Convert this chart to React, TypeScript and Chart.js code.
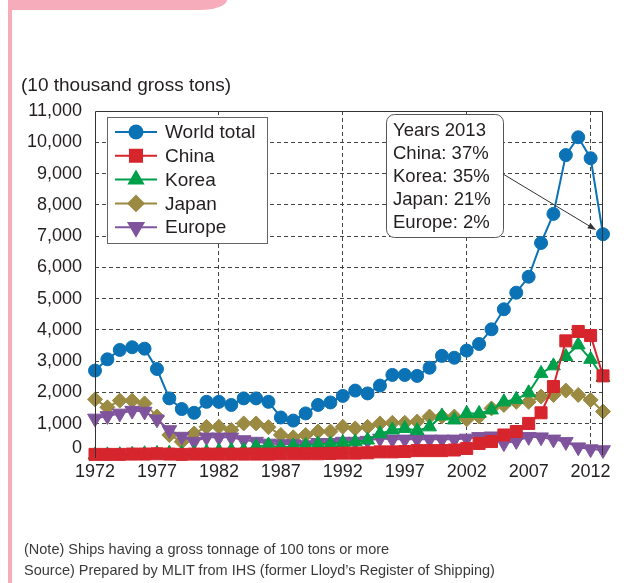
import React, { useEffect, useRef } from "react";
import { Chart, registerables } from "chart.js";
import { drawPoint } from "chart.js/helpers";
Chart.register(...registerables);

const years = [
  1972, 1973, 1974, 1975, 1976, 1977, 1978, 1979, 1980, 1981,
  1982, 1983, 1984, 1985, 1986, 1987, 1988, 1989, 1990, 1991,
  1992, 1993, 1994, 1995, 1996, 1997, 1998, 1999, 2000, 2001,
  2002, 2003, 2004, 2005, 2006, 2007, 2008, 2009, 2010, 2011,
  2012, 2013,
];
const worldTotal = [
  2700, 3060, 3360, 3445, 3400, 2750, 1810, 1470, 1350, 1700,
  1700, 1600, 1810, 1810, 1700, 1200, 1100, 1330, 1600, 1680,
  1890, 2060, 1970, 2220, 2560, 2560, 2530, 2790, 3170, 3110,
  3340, 3550, 4020, 4660, 5190, 5700, 6780, 7710, 9590, 10160,
  9490, 7060,
];
const china = [
  20, 20, 20, 30, 30, 40, 30, 20, 30, 30,
  30, 30, 30, 30, 30, 40, 40, 40, 40, 50,
  60, 60, 70, 100, 100, 110, 140, 140, 140, 160,
  210, 370, 430, 640, 750, 1010, 1350, 2190, 3650, 3950,
  3820, 2530,
];
const korea = [
  2, 5, 10, 20, 40, 50, 60, 50, 60, 90,
  130, 150, 150, 270, 320, 240, 290, 300, 350, 350,
  400, 420, 480, 680, 800, 850, 780, 900, 1250, 1120,
  1330, 1330, 1440, 1700, 1780, 1990, 2610, 2850, 3150, 3520,
  3060, 2480,
];
const japan = [
  1780, 1525, 1740, 1740, 1650, 1230, 640, 425, 690, 900,
  900, 800, 1010, 1010, 890, 640, 565, 640, 750, 750,
  900, 850, 900, 1010, 1030, 1030, 1070, 1230, 1230, 1230,
  1140, 1230, 1490, 1600, 1700, 1700, 1870, 1920, 2060, 1920,
  1760, 1390,
];
const europe = [
  1170, 1250, 1330, 1420, 1390, 1140, 800, 590, 430, 565,
  565, 565, 480, 430, 370, 350, 350, 320, 390, 390,
  430, 430, 460, 530, 500, 500, 500, 500, 500, 500,
  530, 580, 600, 380, 450, 580, 570, 500, 420, 250,
  190, 160,
];

const seriesNames = ["World total", "China", "Korea", "Japan", "Europe"];
const seriesColors = ["#0a72b5", "#d6252d", "#00a04a", "#9a8a42", "#7f549c"];
const xTickYears = [1972, 1977, 1982, 1987, 1992, 1997, 2002, 2007, 2012];
const xGridYears = [1982, 1992, 2002, 2012];
const yMin = 0;
const yMax = 11000;
const yStep = 1000;
const axisTitle = "(10 thousand gross tons)";
const noteLines = ["Years 2013", "China: 37%", "Korea: 35%", "Japan: 21%", "Europe: 2%"];
const footnotes = [
  "(Note) Ships having a gross tonnage of 100 tons or more",
  "Source) Prepared by MLIT from IHS (former Lloyd\u2019s Register of Shipping)",
];

const FONT = "'Liberation Sans', Arial, Helvetica, sans-serif";
const TEXT = "#231f20";

const markers = [
  { pointStyle: "circle", radius: 6.5, rotation: 0 },
  { pointStyle: "rect", radius: 8.5, rotation: 0 },
  { pointStyle: "triangle", radius: 8, rotation: 0 },
  { pointStyle: "rectRot", radius: 7.5, rotation: 0 },
  { pointStyle: "triangle", radius: 8.5, rotation: 180 },
];
const drawOrder = [0, 1, 2, 4, 3];

const framePlugin = {
  id: "framePlugin",
  afterDraw(chart: any) {
    const { ctx, chartArea } = chart;
    const { left, top, right, bottom } = chartArea;
    ctx.save();
    // frame (left, top, right)
    ctx.strokeStyle = "#333";
    ctx.lineWidth = 1;
    ctx.setLineDash([]);
    ctx.beginPath();
    const L = Math.round(left) + 0.5;
    const R = Math.round(right) - 0.5;
    const T = Math.round(top) + 0.5;
    ctx.moveTo(L, bottom + 3);
    ctx.lineTo(L, T);
    ctx.lineTo(R, T);
    ctx.lineTo(R, bottom);
    ctx.stroke();

    // axis title
    ctx.fillStyle = TEXT;
    ctx.font = `19px ${FONT}`;
    ctx.textAlign = "left";
    ctx.textBaseline = "middle";
    ctx.fillText(axisTitle, 21, 86);

    // legend box
    const lx = left + 12;
    const ly = top + 6;
    const lw = 160;
    const lh = 126;
    ctx.fillStyle = "#fff";
    ctx.fillRect(lx, ly, lw, lh);
    ctx.strokeStyle = "#666";
    ctx.lineWidth = 1;
    ctx.strokeRect(Math.round(lx) + 0.5, Math.round(ly) + 0.5, lw, lh);
    chart.data.datasets.forEach((ds: any, i: number) => {
      const y = ly + 15 + i * 23.8;
      ctx.strokeStyle = ds.borderColor;
      ctx.lineWidth = 2;
      ctx.beginPath();
      ctx.moveTo(lx + 8, y);
      ctx.lineTo(lx + 50, y);
      ctx.stroke();
      ctx.fillStyle = ds.backgroundColor;
      ctx.strokeStyle = ds.borderColor;
      drawPoint(ctx, {
        pointStyle: ds.pointStyle,
        rotation: ds.pointRotation,
        radius: ds.pointRadius,
        borderWidth: 1,
      } as any, lx + 29, y);
      ctx.fillStyle = TEXT;
      ctx.font = `19px ${FONT}`;
      ctx.textAlign = "left";
      ctx.textBaseline = "middle";
      ctx.fillText(ds.label, lx + 58, y + 1);
    });

    // annotation box
    const bx = left + 291;
    const by = top + 3;
    const bw = 117;
    const bh = 123;
    ctx.beginPath();
    (ctx as any).roundRect(Math.round(bx) + 0.5, Math.round(by) + 0.5, bw, bh, 8);
    ctx.fillStyle = "#fff";
    ctx.fill();
    ctx.strokeStyle = "#555";
    ctx.lineWidth = 1;
    ctx.stroke();
    ctx.fillStyle = TEXT;
    ctx.font = `18.5px ${FONT}`;
    ctx.textAlign = "left";
    ctx.textBaseline = "middle";
    noteLines.forEach((t, i) => ctx.fillText(t, bx + 7, by + 17 + i * 23));

    // arrow to last world total point
    const xs = chart.scales.x;
    const ys = chart.scales.y;
    const last = years.length - 1;
    const px = xs.getPixelForValue(years[last]);
    const py = ys.getPixelForValue(worldTotal[last]);
    const sx = bx + bw;
    const sy = by + 60;
    const ang = Math.atan2(py - sy, px - sx);
    const ex = px - Math.cos(ang) * 8;
    const ey = py - Math.sin(ang) * 8;
    ctx.strokeStyle = "#333";
    ctx.fillStyle = "#333";
    ctx.lineWidth = 1;
    ctx.beginPath();
    ctx.moveTo(sx, sy);
    ctx.lineTo(ex - Math.cos(ang) * 6, ey - Math.sin(ang) * 6);
    ctx.stroke();
    ctx.beginPath();
    ctx.moveTo(ex, ey);
    ctx.lineTo(ex - Math.cos(ang - 0.35) * 9, ey - Math.sin(ang - 0.35) * 9);
    ctx.lineTo(ex - Math.cos(ang + 0.35) * 9, ey - Math.sin(ang + 0.35) * 9);
    ctx.closePath();
    ctx.fill();
    ctx.restore();
  },
};

export default function App() {
  const canvasRef = useRef<HTMLCanvasElement | null>(null);

  useEffect(() => {
    if (!canvasRef.current) return;
    const seriesValues = [worldTotal, china, korea, japan, europe];
    const datasets = seriesValues.map((vals, i) => ({
      label: seriesNames[i],
      data: vals.map((v, j) => ({ x: years[j], y: v })),
      borderColor: seriesColors[i],
      backgroundColor: seriesColors[i],
      borderWidth: 2,
      pointStyle: markers[i].pointStyle,
      pointRadius: markers[i].radius,
      pointRotation: markers[i].rotation,
      pointBorderWidth: 1,
      pointHoverRadius: markers[i].radius,
      order: drawOrder[i],
      clip: false as any,
      tension: 0,
    }));
    const chart = new Chart(canvasRef.current, {
      type: "line",
      data: { datasets: datasets as any },
      options: {
        animation: false,
        responsive: false,
        maintainAspectRatio: false,
        layout: { padding: { left: 0, top: 111, right: 21, bottom: 88 } },
        plugins: {
          legend: { display: false },
          tooltip: { enabled: false },
          title: { display: false },
        },
        scales: {
          x: {
            type: "linear",
            min: years[0],
            max: years[years.length - 1],
            afterBuildTicks: (scale: any) => {
              scale.ticks = xTickYears.map((v) => ({ value: v }));
            },
            afterFit: (scale: any) => {
              scale.height = 40;
              scale.paddingLeft = 0;
              scale.paddingRight = 0;
            },
            ticks: {
              autoSkip: false,
              maxRotation: 0,
              padding: 6,
              color: TEXT,
              font: { family: FONT, size: 18 },
              callback: (v: any) => String(v),
            },
            grid: {
              drawTicks: false,
              lineWidth: 1,
              color: (c: any) =>
                c.tick && xGridYears.includes(c.tick.value) ? "#444" : "rgba(0,0,0,0)",
            },
            border: { display: false, dash: [4, 3] },
          },
          y: {
            type: "linear",
            min: yMin,
            max: yMax,
            afterFit: (scale: any) => {
              scale.width = 95;
            },
            ticks: {
              stepSize: yStep,
              includeBounds: false,
              padding: 13,
              color: TEXT,
              font: { family: FONT, size: 18, lineHeight: 0.78 },
              callback: (v: any) => (v === 0 ? ["0", ""] : Number(v).toLocaleString("en-US")),
            },
            grid: {
              drawTicks: false,
              lineWidth: 1,
              color: (c: any) =>
                c.tick && (c.tick.value === yMin || c.tick.value === yMax) ? "rgba(0,0,0,0)" : "#444",
            },
            border: { display: false, dash: [4, 3] },
          },
        },
      },
      plugins: [framePlugin],
    });
    return () => chart.destroy();
  }, []);

  return (
    <div style={{ position: "absolute", left: 0, top: 0, width: 624, height: 583, background: "#fff", overflow: "hidden" }}>
      <div style={{ position: "absolute", left: 8, top: 0, width: 219, height: 10, background: "#f7acbb", borderBottomRightRadius: "27px 10px" }} />
      <div style={{ position: "absolute", left: 8, top: 0, width: 4, height: 583, background: "#f7acbb" }} />
      <canvas ref={canvasRef} width={624} height={583} style={{ position: "absolute", left: 0, top: 0, width: 624, height: 583 }} />
      <div style={{ position: "absolute", left: 24, top: 539, fontFamily: FONT, fontSize: 14.5, lineHeight: "21px", color: "#3a3a3a", whiteSpace: "nowrap" }}>
        {footnotes.map((t, i) => (
          <div key={i}>{t}</div>
        ))}
      </div>
    </div>
  );
}
